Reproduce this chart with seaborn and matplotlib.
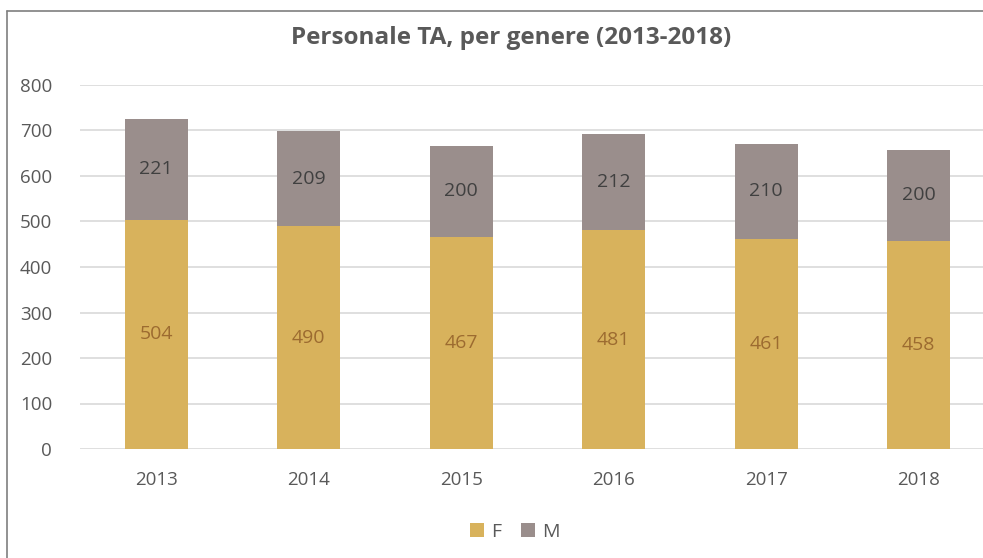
import numpy as np
import pandas as pd
import matplotlib
matplotlib.use("Agg")
import matplotlib.pyplot as plt
from matplotlib.lines import Line2D
from matplotlib.patches import Patch
import seaborn as sns

years = ["2013", "2014", "2015", "2016", "2017", "2018"]
female = [504, 490, 467, 481, 461, 458]
male = [221, 209, 200, 212, 210, 200]

gold = "#D8B25C"
grey = "#9A8E8C"

sns.set_theme(style="white")
plt.rcParams['font.family'] = ['Open Sans', 'DejaVu Sans']

df = pd.DataFrame({"anno": years, "F": female, "M": male})
df["tot"] = df["F"] + df["M"]

fig = plt.figure(figsize=(9.83, 5.58), dpi=100)
ax = fig.add_axes([80 / 983, 109 / 558, 915 / 983, 364 / 558])

# stacked bars: total (grey) behind, female (gold) in front
sns.barplot(data=df, x="anno", y="tot", color=grey, width=0.41,
            saturation=1, linewidth=0, ax=ax, zorder=3)
sns.barplot(data=df, x="anno", y="F", color=gold, width=0.41,
            saturation=1, linewidth=0, ax=ax, zorder=4)

ax.set_ylim(0, 800)
ax.set_yticks(range(0, 801, 100))
ax.yaxis.grid(True, color="#D9D9D9", linewidth=1.2, zorder=0)
ax.xaxis.grid(False)
for s in ax.spines.values():
    s.set_visible(False)
ax.set_xlabel("")
ax.set_ylabel("")
ax.tick_params(axis="both", length=0, labelsize=13.5, colors="#595959")
ax.tick_params(axis="y", pad=20)
ax.tick_params(axis="x", pad=16)

for i in range(len(years)):
    ax.text(i, female[i] / 2, str(female[i]), ha="center", va="center",
            fontsize=14, color="#9C6B30", zorder=5)
    ax.text(i, female[i] + male[i] / 2, str(male[i]), ha="center", va="center",
            fontsize=14, color="#404040", zorder=5)

fig.text(511 / 983, 1 - 38 / 558, "Personale TA, per genere (2013-2018)",
         ha="center", va="center", fontsize=17.5, fontweight="bold",
         color="#595959")

handles = [Patch(facecolor=gold, edgecolor="none", label="F"),
           Patch(facecolor=grey, edgecolor="none", label="M")]
leg = fig.legend(handles=handles, loc="center", bbox_to_anchor=(515 / 983, 1 - 532 / 558),
                 ncol=2, frameon=False, fontsize=14, handlelength=0.7,
                 handleheight=0.7, handletextpad=0.4, columnspacing=1.0)
for t in leg.get_texts():
    t.set_color("#595959")

# chart border (cut off on right and bottom)
fig.add_artist(Line2D([7 / 983, 7 / 983], [0, 1 - 11 / 558], color="#7F7F7F", linewidth=1.2))
fig.add_artist(Line2D([7 / 983, 1], [1 - 11 / 558, 1 - 11 / 558], color="#7F7F7F", linewidth=1.2))

fig.savefig("out.png", dpi=100)
